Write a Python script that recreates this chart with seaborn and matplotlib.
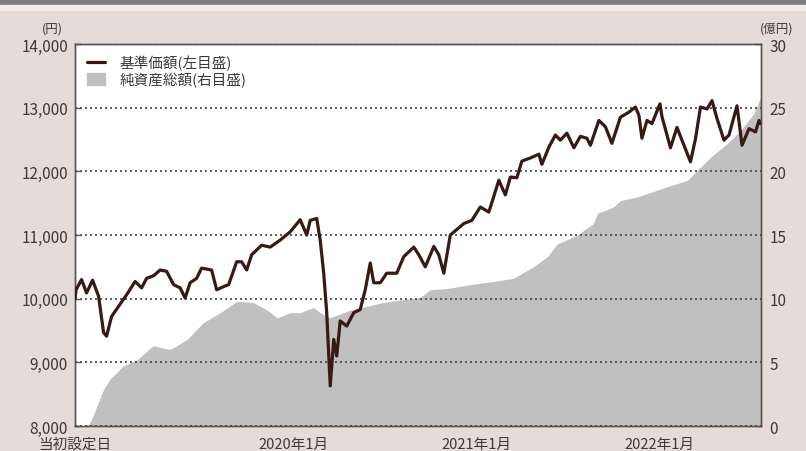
import pandas as pd
import matplotlib.pyplot as plt
import matplotlib.ticker as mticker
from matplotlib.lines import Line2D
from matplotlib.patches import Patch, Rectangle
import seaborn as sns

# 基準価額 (円) - 左目盛
nav_dates = [
    "2018-10-22", "2018-10-24", "2018-11-04", "2018-11-14", "2018-11-26", "2018-12-08",
    "2018-12-18", "2018-12-24", "2019-01-03", "2019-01-17", "2019-02-02", "2019-02-19",
    "2019-03-04", "2019-03-14", "2019-03-28", "2019-04-10", "2019-04-23", "2019-05-07",
    "2019-05-20", "2019-05-30", "2019-06-09", "2019-06-22", "2019-07-02", "2019-07-22",
    "2019-08-01", "2019-08-15", "2019-08-25", "2019-09-10", "2019-09-20", "2019-09-30",
    "2019-10-10", "2019-10-30", "2019-11-16", "2019-12-06", "2019-12-26", "2020-01-15",
    "2020-01-28", "2020-02-04", "2020-02-17", "2020-02-24", "2020-03-02", "2020-03-08",
    "2020-03-15", "2020-03-22", "2020-03-28", "2020-04-04", "2020-04-17", "2020-05-01",
    "2020-05-14", "2020-05-24", "2020-06-03", "2020-06-10", "2020-06-23", "2020-07-06",
    "2020-07-26", "2020-08-09", "2020-08-29", "2020-09-08", "2020-09-21", "2020-10-08",
    "2020-10-18", "2020-10-28", "2020-11-10", "2020-12-07", "2020-12-23", "2021-01-09",
    "2021-01-26", "2021-02-15", "2021-02-28", "2021-03-10", "2021-03-23", "2021-04-02",
    "2021-04-19", "2021-05-06", "2021-05-12", "2021-05-26", "2021-06-08", "2021-06-18",
    "2021-07-01", "2021-07-15", "2021-07-28", "2021-08-10", "2021-08-17", "2021-09-03",
    "2021-09-16", "2021-09-29", "2021-10-16", "2021-11-02", "2021-11-15", "2021-11-22",
    "2021-11-28", "2021-12-08", "2021-12-18", "2022-01-03", "2022-01-07", "2022-01-24",
    "2022-02-06", "2022-02-20", "2022-03-05", "2022-03-15", "2022-03-25", "2022-04-07",
    "2022-04-17", "2022-04-27", "2022-05-11", "2022-05-21", "2022-06-06", "2022-06-16",
    "2022-06-30", "2022-07-13", "2022-07-20", "2022-07-23",
]
nav_values = [
    10000, 10140, 10300, 10090, 10290, 10040,
    9470, 9410, 9720, 9880, 10060, 10270,
    10170, 10320, 10360, 10450, 10430, 10220,
    10170, 10010, 10250, 10320, 10480, 10450,
    10140, 10190, 10220, 10580, 10580, 10450,
    10690, 10840, 10810, 10920, 11050, 11240,
    11000, 11230, 11260, 10920, 10400, 9780,
    8630, 9360, 9100, 9650, 9570, 9780,
    9830, 10140, 10560, 10250, 10250, 10400,
    10400, 10660, 10810, 10690, 10500, 10820,
    10690, 10400, 11000, 11180, 11230, 11440,
    11360, 11860, 11630, 11910, 11900, 12160,
    12210, 12270, 12110, 12380, 12570, 12490,
    12600, 12370, 12550, 12520, 12410, 12800,
    12700, 12440, 12850, 12930, 13010, 12880,
    12520, 12800, 12750, 13060, 12860, 12370,
    12690, 12410, 12150, 12510, 13010, 12980,
    13110, 12830, 12490, 12570, 13030, 12410,
    12670, 12620, 12800, 12750,
]

# 純資産総額 (億円) - 右目盛
aum_dates = [
    "2018-10-22", "2018-11-17", "2018-11-25", "2018-12-05", "2018-12-17", "2018-12-31",
    "2019-01-26", "2019-02-23", "2019-03-27", "2019-04-30", "2019-06-03", "2019-07-05",
    "2019-08-08", "2019-09-11", "2019-10-13", "2019-11-10", "2019-11-30", "2019-12-26",
    "2020-01-15", "2020-02-10", "2020-02-24", "2020-03-15", "2020-04-24", "2020-06-29",
    "2020-08-02", "2020-09-11", "2020-10-01", "2020-11-04", "2020-12-20", "2021-02-12",
    "2021-03-16", "2021-04-25", "2021-05-23", "2021-06-12", "2021-07-22", "2021-08-23",
    "2021-08-31", "2021-10-02", "2021-10-16", "2021-11-19", "2022-01-18", "2022-02-27",
    "2022-03-19", "2022-04-14", "2022-05-18", "2022-06-13", "2022-07-09", "2022-07-23",
]
aum_values = [
    0, 0, 0.6, 1.6, 2.8, 3.7,
    4.7, 5.2, 6.3, 6.0, 6.8, 8.1,
    8.9, 9.8, 9.7, 9.1, 8.5, 8.9,
    8.9, 9.3, 8.9, 8.5, 9.1, 9.7,
    9.9, 10.1, 10.7, 10.8, 11.1, 11.4,
    11.6, 12.5, 13.3, 14.3, 15.0, 15.9,
    16.7, 17.2, 17.7, 18.0, 18.8, 19.3,
    20.1, 21.1, 22.2, 23.2, 24.5, 25.8,
]

x_ticks = ["2018-10-22", "2020-01-01", "2021-01-01", "2022-01-01"]
x_labels = ["当初設定日", "2020年1月", "2021年1月", "2022年1月"]
legend_labels = ["基準価額(左目盛)", "純資産総額(右目盛)"]

nav = pd.DataFrame({"date": pd.to_datetime(nav_dates), "nav": nav_values})
aum = pd.DataFrame({"date": pd.to_datetime(aum_dates), "aum": aum_values})

sns.set_theme(style="white")
plt.rcParams['font.family'] = ['Noto Sans CJK JP', 'DejaVu Sans']

text_col = '#3a3a3a'
line_col = '#381a15'
fill_col = '#c0c0c0'

fig = plt.figure(figsize=(8.06, 4.52), dpi=100)
fig.patch.set_facecolor('#e5dcd9')
# 上部の帯
fig.patches.append(Rectangle((0, 1 - 6 / 452), 1, 6 / 452, transform=fig.transFigure,
                             color='#7d7d7d', zorder=0))
fig.patches.append(Rectangle((0, 1 - 11 / 452), 1, 5 / 452, transform=fig.transFigure,
                             color='#f2edeb', zorder=0))

ax = fig.add_axes([0.0931, 0.0553, 0.8511, 0.8451])
ax2 = ax.twinx()
ax.set_zorder(2)
ax2.set_zorder(1)
ax.patch.set_visible(False)
ax2.patch.set_visible(True)
ax2.patch.set_facecolor('white')

ax2.fill_between(aum['date'], aum['aum'], color=fill_col, lw=0)

sns.lineplot(data=nav, x='date', y='nav', ax=ax, color=line_col, lw=2.3, zorder=3)

xmin, xmax = pd.Timestamp("2018-10-22"), pd.Timestamp("2022-07-24")
ax.set_xlim(xmin, xmax)
ax.set_ylim(8000, 14000)
ax2.set_ylim(0, 30)
ax.set_yticks(range(8000, 14001, 1000))
ax2.set_yticks(range(0, 31, 5))

# 点線の目盛線 (塗りの上)
ax.set_axisbelow(False)
ax.yaxis.grid(True, linestyle=(0, (1.2, 1.8)), color='#444444', linewidth=1.2, zorder=1.5)
ax.xaxis.grid(False)

ax.yaxis.set_major_formatter(mticker.FuncFormatter(lambda v, p: f"{int(v):,}"))
ax.set_xticks(pd.to_datetime(x_ticks))
ax.set_xticklabels(x_labels)

ax.set_xlabel('')
ax.set_ylabel('')

ax.tick_params(axis='y', direction='in', length=4, width=1, colors='#555555',
               labelcolor=text_col, labelsize=11, pad=5)
ax.tick_params(axis='x', direction='in', length=4, width=1, colors='#555555',
               labelcolor=text_col, labelsize=10.5, pad=8)
ax2.tick_params(axis='y', direction='in', length=4, width=1, colors='#555555',
                labelcolor=text_col, labelsize=11, pad=6)
for a in (ax, ax2):
    for s in a.spines.values():
        s.set_color('#555555')
        s.set_linewidth(1)

fig.text(52 / 806, 1 - 29 / 452, '(円)', ha='center', va='center', fontsize=9, color=text_col)
fig.text(777 / 806, 1 - 29 / 452, '(億円)', ha='center', va='center', fontsize=9, color=text_col)

handles = [Line2D([], [], color=line_col, lw=2.3), Patch(color=fill_col)]
ax.legend(handles, legend_labels, loc='upper left', bbox_to_anchor=(-0.004, 1.01),
          frameon=False, fontsize=10.5, handlelength=1.25, handleheight=0.85,
          labelspacing=0.1, handletextpad=1.0, labelcolor=text_col, borderpad=0.5)

fig.savefig('out.png', dpi=100, facecolor=fig.get_facecolor())
